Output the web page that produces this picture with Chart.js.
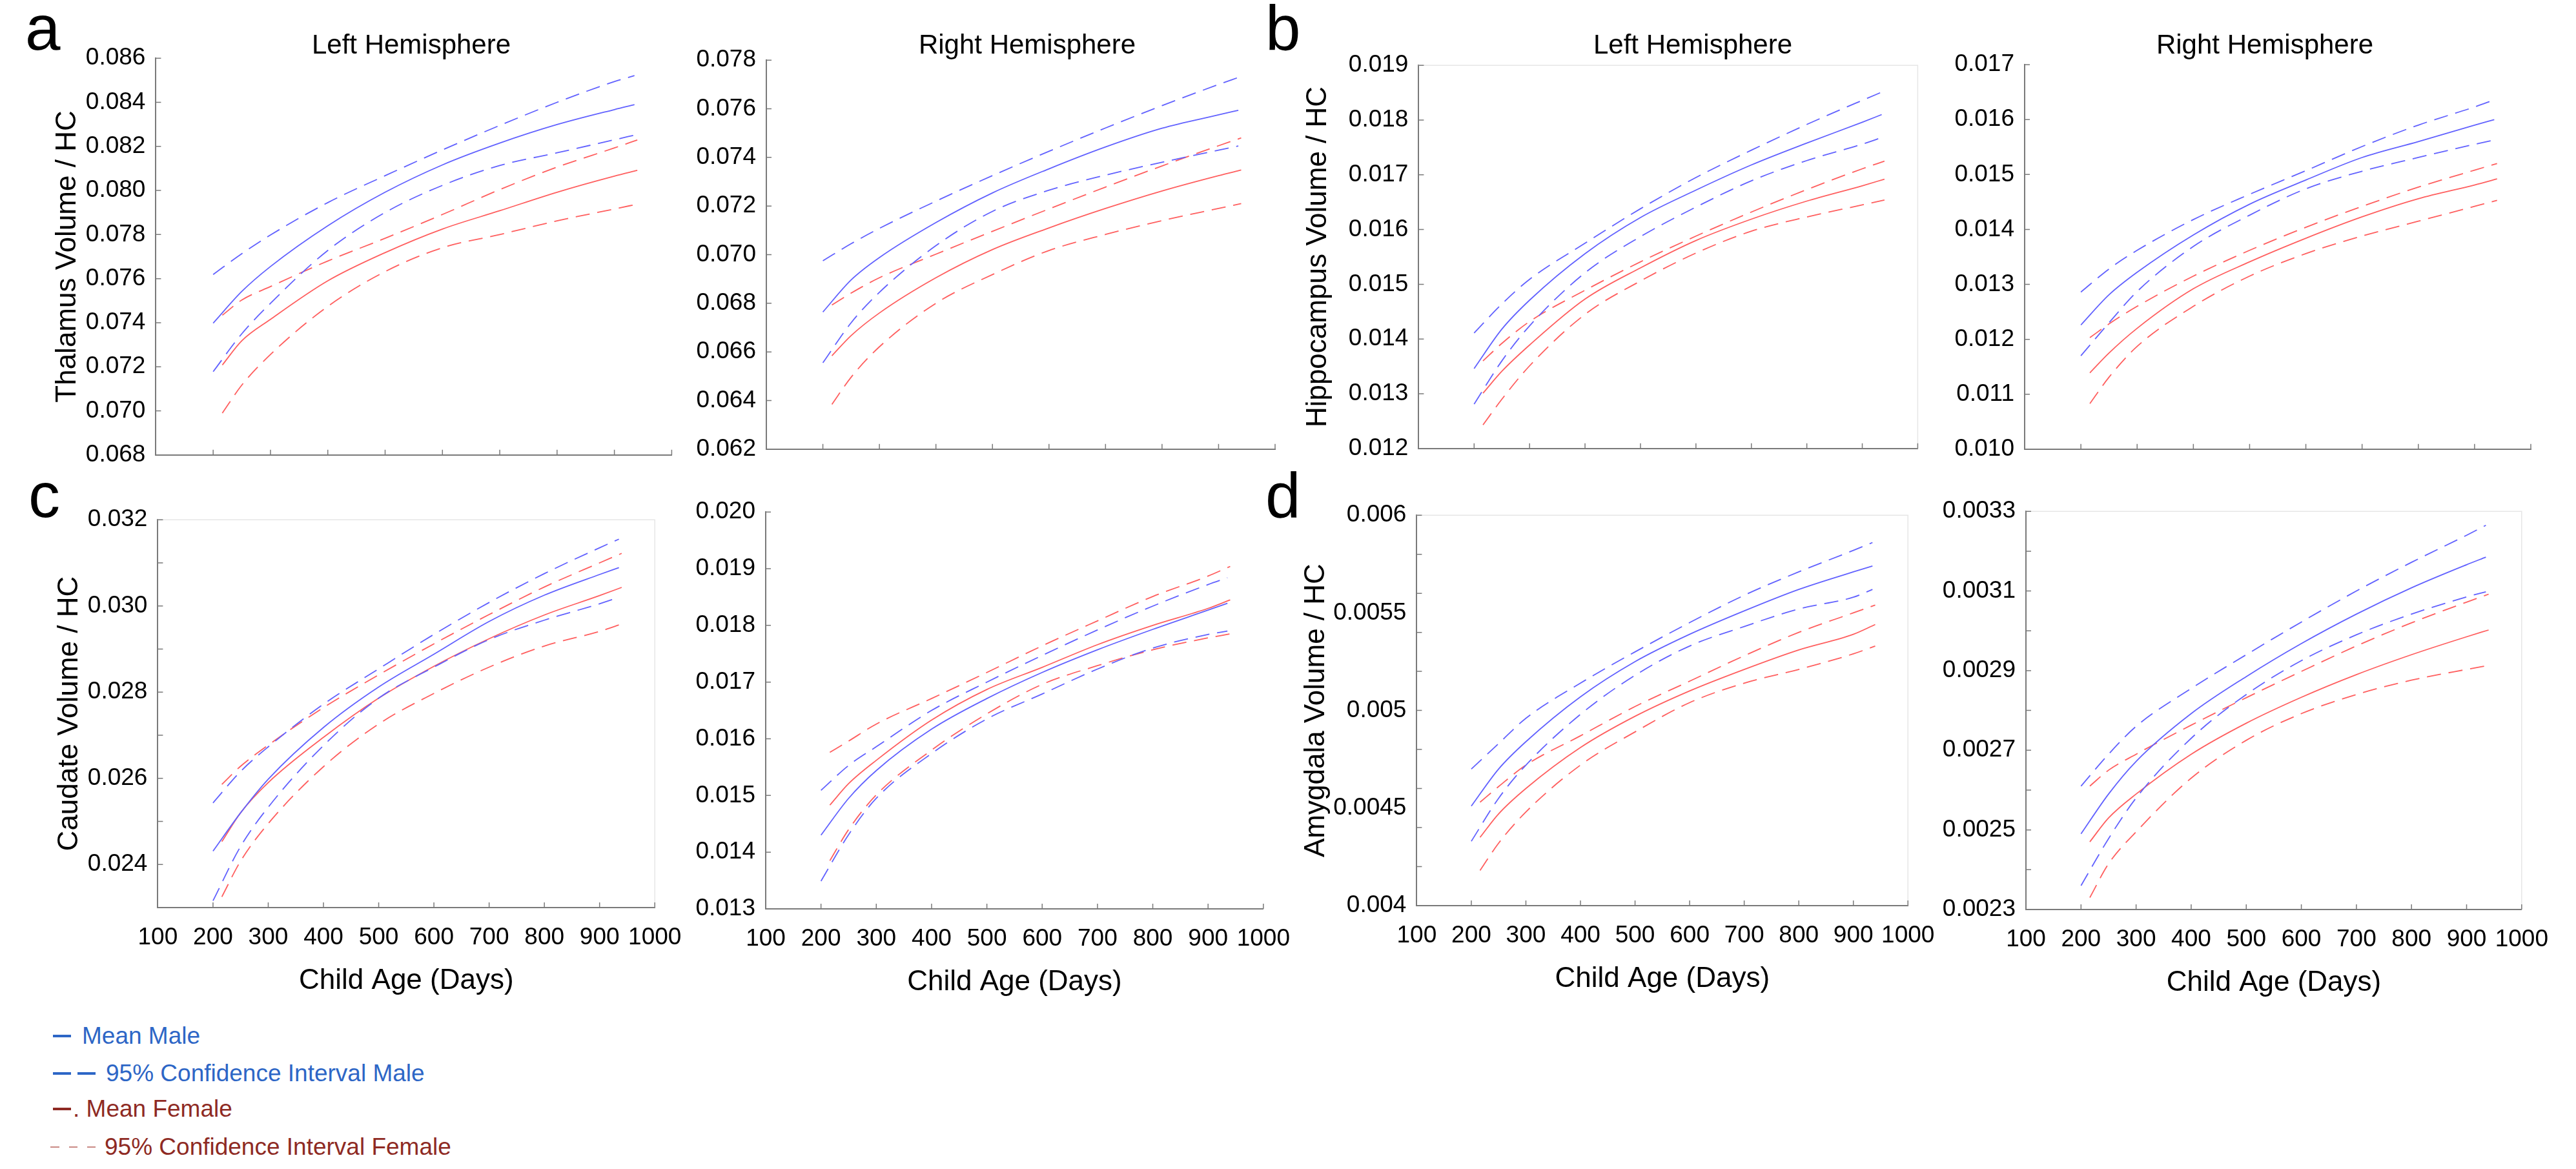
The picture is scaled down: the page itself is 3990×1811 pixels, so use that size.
<!DOCTYPE html>
<html>
<head>
<meta charset="utf-8">
<script src="https://cdn.jsdelivr.net/npm/chart.js@4.4.1/dist/chart.umd.min.js"></script>
<style>
  html, body { margin: 0; padding: 0; background: #fff; }
  #fig { position: relative; width: 3990px; height: 1811px; overflow: hidden; background: #fff;
         font-family: "Liberation Sans", Arial, Helvetica, sans-serif; color: #000; }
  .box { position: absolute; }
  .txt { position: absolute; white-space: nowrap; }
  .letter { font-size: 98px; line-height: 98px; }
  .hemi { font-size: 42px; line-height: 42px; transform: translateX(-50%); }
  .leg { font-size: 37px; line-height: 37px; }
  .dash { position: absolute; }
</style>
</head>
<body>
<div id="fig"></div>
<script>
// Age grid (days) the fitted curves were read at
const maleAge = [200, 250, 300, 400, 500, 600, 700, 800, 900, 935];
const femaleAge = [216, 250, 300, 400, 500, 600, 700, 800, 900, 940];

// a - Thalamus, left hemisphere
const thalL_mHi   = [0.07619, 0.07713, 0.07798, 0.07945, 0.08067, 0.08184, 0.08295, 0.08400, 0.08494, 0.08521];
const thalL_mMean = [0.07398, 0.07542, 0.07655, 0.07840, 0.07992, 0.08116, 0.08215, 0.08299, 0.08367, 0.08389];
const thalL_mLo   = [0.07178, 0.07350, 0.07488, 0.07728, 0.07900, 0.08023, 0.08113, 0.08171, 0.08230, 0.08251];
const thalL_fHi   = [0.07434, 0.07503, 0.07564, 0.07680, 0.07783, 0.07891, 0.08004, 0.08106, 0.08193, 0.08229];
const thalL_fMean = [0.07208, 0.07318, 0.07415, 0.07590, 0.07718, 0.07825, 0.07908, 0.07992, 0.08065, 0.08091];
const thalL_fLo   = [0.06990, 0.07117, 0.07256, 0.07474, 0.07632, 0.07740, 0.07800, 0.07862, 0.07916, 0.07938];

// a - Thalamus, right hemisphere
const thalR_mHi   = [0.06975, 0.07045, 0.07108, 0.07220, 0.07325, 0.07425, 0.07521, 0.07613, 0.07700, 0.07729];
const thalR_mMean = [0.06764, 0.06896, 0.06988, 0.07132, 0.07254, 0.07353, 0.07443, 0.07520, 0.07575, 0.07594];
const thalR_mLo   = [0.06555, 0.06720, 0.06845, 0.07037, 0.07178, 0.07265, 0.07327, 0.07380, 0.07430, 0.07447];
const thalR_fHi   = [0.06793, 0.06842, 0.06905, 0.07002, 0.07096, 0.07188, 0.07278, 0.07365, 0.07448, 0.07480];
const thalR_fMean = [0.06584, 0.06667, 0.06760, 0.06905, 0.07021, 0.07110, 0.07190, 0.07262, 0.07325, 0.07348];
const thalR_fLo   = [0.06384, 0.06496, 0.06621, 0.06800, 0.06918, 0.07017, 0.07083, 0.07140, 0.07190, 0.07210];

// b - Hippocampus, left hemisphere
const hipL_mHi   = [0.01411, 0.01464, 0.01509, 0.01575, 0.01638, 0.01695, 0.01745, 0.01792, 0.01836, 0.01851];
const hipL_mMean = [0.01346, 0.01418, 0.01471, 0.01556, 0.01622, 0.01672, 0.01718, 0.01758, 0.01796, 0.01810];
const hipL_mLo   = [0.01281, 0.01360, 0.01424, 0.01521, 0.01587, 0.01641, 0.01689, 0.01726, 0.01756, 0.01768];
const hipL_fHi   = [0.01360, 0.01392, 0.01432, 0.01489, 0.01541, 0.01588, 0.01632, 0.01673, 0.01711, 0.01725];
const hipL_fMean = [0.01301, 0.01341, 0.01389, 0.01473, 0.01530, 0.01580, 0.01619, 0.01652, 0.01680, 0.01692];
const hipL_fLo   = [0.01243, 0.01290, 0.01351, 0.01445, 0.01506, 0.01557, 0.01597, 0.01623, 0.01645, 0.01654];

// b - Hippocampus, right hemisphere
const hipR_mHi   = [0.01286, 0.01328, 0.01362, 0.01418, 0.01464, 0.01507, 0.01551, 0.01590, 0.01623, 0.01636];
const hipR_mMean = [0.01226, 0.01281, 0.01322, 0.01390, 0.01446, 0.01490, 0.01531, 0.01560, 0.01590, 0.01600];
const hipR_mLo   = [0.01170, 0.01230, 0.01287, 0.01369, 0.01426, 0.01474, 0.01506, 0.01531, 0.01555, 0.01563];
const hipR_fHi   = [0.01203, 0.01228, 0.01260, 0.01315, 0.01362, 0.01404, 0.01442, 0.01477, 0.01508, 0.01520];
const hipR_fMean = [0.01139, 0.01175, 0.01220, 0.01292, 0.01341, 0.01384, 0.01423, 0.01456, 0.01481, 0.01492];
const hipR_fLo   = [0.01083, 0.01131, 0.01187, 0.01260, 0.01315, 0.01356, 0.01388, 0.01415, 0.01442, 0.01453];

// c - Caudate, left hemisphere
const caudL_mHi   = [0.02543, 0.02616, 0.02673, 0.02772, 0.02854, 0.02934, 0.03008, 0.03075, 0.03135, 0.03155];
const caudL_mMean = [0.02431, 0.02520, 0.02598, 0.02718, 0.02812, 0.02888, 0.02964, 0.03025, 0.03073, 0.03089];
const caudL_mLo   = [0.02316, 0.02442, 0.02533, 0.02676, 0.02786, 0.02858, 0.02922, 0.02967, 0.03005, 0.03020];
const caudL_fHi   = [0.02586, 0.02628, 0.02677, 0.02764, 0.02840, 0.02912, 0.02980, 0.03044, 0.03100, 0.03122];
const caudL_fMean = [0.02453, 0.02520, 0.02590, 0.02695, 0.02786, 0.02860, 0.02924, 0.02979, 0.03024, 0.03043];
const caudL_fLo   = [0.02325, 0.02408, 0.02495, 0.02627, 0.02726, 0.02797, 0.02858, 0.02907, 0.02941, 0.02958];

// c - Caudate, right hemisphere
const caudR_mHi   = [0.01509, 0.01553, 0.01586, 0.01650, 0.01700, 0.01747, 0.01792, 0.01834, 0.01872, 0.01884];
const caudR_mMean = [0.01430, 0.01495, 0.01544, 0.01617, 0.01671, 0.01717, 0.01757, 0.01793, 0.01827, 0.01839];
const caudR_mLo   = [0.01349, 0.01431, 0.01495, 0.01574, 0.01635, 0.01679, 0.01723, 0.01760, 0.01784, 0.01790];
const caudR_fHi   = [0.01576, 0.01596, 0.01626, 0.01671, 0.01717, 0.01764, 0.01808, 0.01851, 0.01887, 0.01904];
const caudR_fMean = [0.01483, 0.01521, 0.01562, 0.01633, 0.01687, 0.01726, 0.01766, 0.01800, 0.01830, 0.01845];
const caudR_fLo   = [0.01385, 0.01440, 0.01501, 0.01580, 0.01644, 0.01696, 0.01729, 0.01757, 0.01778, 0.01785];

// d - Amygdala, left hemisphere
const amyL_mHi   = [0.00470, 0.00483, 0.00496, 0.00514, 0.00530, 0.00545, 0.00559, 0.00571, 0.00582, 0.00586];
const amyL_mMean = [0.00451, 0.00470, 0.00484, 0.00507, 0.00525, 0.00539, 0.00551, 0.00562, 0.00571, 0.00574];
const amyL_mLo   = [0.00433, 0.00455, 0.00472, 0.00498, 0.00518, 0.00533, 0.00543, 0.00552, 0.00558, 0.00562];
const amyL_fHi   = [0.00453, 0.00461, 0.00472, 0.00487, 0.00502, 0.00515, 0.00528, 0.00540, 0.00550, 0.00554];
const amyL_fMean = [0.00435, 0.00447, 0.00460, 0.00481, 0.00497, 0.00510, 0.00521, 0.00531, 0.00539, 0.00544];
const amyL_fLo   = [0.00418, 0.00432, 0.00448, 0.00472, 0.00489, 0.00504, 0.00514, 0.00521, 0.00529, 0.00533];

// d - Amygdala, right hemisphere
const amyR_mHi   = [0.002610, 0.002690, 0.002760, 0.002855, 0.002940, 0.003022, 0.003100, 0.003172, 0.003240, 0.003265];
const amyR_mMean = [0.002490, 0.002590, 0.002672, 0.002792, 0.002885, 0.002968, 0.003042, 0.003108, 0.003166, 0.003185];
const amyR_mLo   = [0.002360, 0.002478, 0.002580, 0.002730, 0.002840, 0.002925, 0.002990, 0.003042, 0.003085, 0.003098];
const amyR_fHi   = [0.002610, 0.002650, 0.002690, 0.002763, 0.002832, 0.002898, 0.002962, 0.003020, 0.003072, 0.003092];
const amyR_fMean = [0.002470, 0.002530, 0.002590, 0.002690, 0.002768, 0.002833, 0.002890, 0.002940, 0.002985, 0.003002];
const amyR_fLo   = [0.002330, 0.002415, 0.002495, 0.002630, 0.002725, 0.002792, 0.002840, 0.002876, 0.002903, 0.002913];

const legendLabels = ["Mean Male", "95% Confidence Interval Male", ". Mean Female", "95% Confidence Interval Female"];

const BLUE = "#6262ff";
const RED = "#ff5f5f";
const AXIS = "#7a7a7a";
const DASH = [22, 12];
const NARROW = '"Liberation Sans Narrow", "Arial Narrow", "Liberation Sans", sans-serif';
const SANS = '"Liberation Sans", Arial, Helvetica, sans-serif';
const TOP_PAD = 30;
const RIGHT_PAD = 48;
const TICK = 8;

const fix3 = (v) => v.toFixed(3);
const k4 = (v) => Math.round(v * 1e4);

// chart-area box of every panel in page pixels, plus its axis setup
const PANELS = [
  { L: 241, R: 1040, T: 82, B: 713, yMin: 0.068, yMax: 0.086, step: 0.002, title: "Thalamus Volume / HC", tOff: 137,
    series: [thalL_mHi, thalL_mMean, thalL_mLo, thalL_fHi, thalL_fMean, thalL_fLo], label: fix3 },
  { L: 1187, R: 1975, T: 85, B: 704, yMin: 0.062, yMax: 0.078, step: 0.002,
    series: [thalR_mHi, thalR_mMean, thalR_mLo, thalR_fHi, thalR_fMean, thalR_fLo], label: fix3 },
  { L: 2197, R: 2970, T: 93, B: 703, yMin: 0.012, yMax: 0.019, step: 0.001, title: "Hippocampus Volume / HC", tOff: 156, frame: true,
    series: [hipL_mHi, hipL_mMean, hipL_mLo, hipL_fHi, hipL_fMean, hipL_fLo], label: fix3 },
  { L: 3136, R: 3920, T: 92, B: 704, yMin: 0.010, yMax: 0.017, step: 0.001,
    series: [hipR_mHi, hipR_mMean, hipR_mLo, hipR_fHi, hipR_fMean, hipR_fLo], label: fix3 },
  { L: 244, R: 1032, T: 797, B: 1406, yMin: 0.023, yMax: 0.032, step: 0.001, title: "Caudate Volume / HC", tOff: 137, frame: true, xLabels: true,
    series: [caudL_mHi, caudL_mMean, caudL_mLo, caudL_fHi, caudL_fMean, caudL_fLo],
    label: (v) => (Math.round(v * 1000) % 2 === 0 ? v.toFixed(3) : "") },
  { L: 1186, R: 1975, T: 785, B: 1408, yMin: 0.013, yMax: 0.020, step: 0.001, xLabels: true,
    series: [caudR_mHi, caudR_mMean, caudR_mLo, caudR_fHi, caudR_fMean, caudR_fLo], label: fix3 },
  { L: 2194, R: 2973, T: 790, B: 1403, yMin: 0.004, yMax: 0.006, step: 0.0001, title: "Amygdala Volume / HC", tOff: 156, frame: true, xLabels: true,
    series: [amyL_mHi, amyL_mMean, amyL_mLo, amyL_fHi, amyL_fMean, amyL_fLo],
    label: (v) => (k4(v) % 5 === 0 ? String(k4(v) / 1e4) : ""), mark: (v) => k4(v) % 2 === 0 },
  { L: 3138, R: 3924, T: 784, B: 1409, yMin: 0.0023, yMax: 0.0033, step: 0.0001, frame: true, xLabels: true,
    series: [amyR_mHi, amyR_mMean, amyR_mLo, amyR_fHi, amyR_fMean, amyR_fLo],
    label: (v) => (k4(v) % 2 === 1 ? v.toFixed(4) : "") },
];

const LINE_STYLES = [
  { color: BLUE, dash: DASH }, { color: BLUE, dash: [] }, { color: BLUE, dash: DASH },
  { color: RED, dash: DASH }, { color: RED, dash: [] }, { color: RED, dash: DASH },
];

const fig = document.getElementById("fig");

// MATLAB-style tick marks pointing into the plot, and the faint box some panels have
function tickPlugin(p) {
  return {
    id: "inTicks",
    afterDraw(chart) {
      const { ctx, chartArea: a, scales: { x, y } } = chart;
      ctx.save();
      if (p.frame) {
        ctx.strokeStyle = "#e6e6e6";
        ctx.lineWidth = 1.5;
        ctx.beginPath();
        ctx.moveTo(a.left, a.top);
        ctx.lineTo(a.right, a.top);
        ctx.lineTo(a.right, a.bottom);
        ctx.stroke();
      }
      ctx.strokeStyle = AXIS;
      ctx.lineWidth = 1.5;
      ctx.beginPath();
      x.ticks.forEach((t) => {
        if (t.value <= x.min) return;
        const px = x.getPixelForValue(t.value);
        ctx.moveTo(px, a.bottom);
        ctx.lineTo(px, a.bottom - TICK);
      });
      y.ticks.forEach((t) => {
        if (p.mark && !p.mark(t.value)) return;
        const py = y.getPixelForValue(t.value);
        ctx.moveTo(a.left, py);
        ctx.lineTo(a.left + TICK, py);
      });
      ctx.stroke();
      ctx.restore();
    },
  };
}

function makePanel(p) {
  const yW = p.title ? p.tOff + 26.4 : 140;
  const xH = p.xLabels ? 140.4 : 30;
  const w = yW + (p.R - p.L) + RIGHT_PAD;
  const h = TOP_PAD + (p.B - p.T) + xH;
  const box = document.createElement("div");
  box.className = "box";
  box.style.left = (p.L - yW) + "px";
  box.style.top = (p.T - TOP_PAD) + "px";
  box.style.width = w + "px";
  box.style.height = h + "px";
  const cv = document.createElement("canvas");
  box.appendChild(cv);
  fig.appendChild(box);

  const datasets = p.series.map((ys, i) => ({
    data: (i < 3 ? maleAge : femaleAge).map((age, j) => ({ x: age, y: ys[j] })),
    borderColor: LINE_STYLES[i].color,
    borderDash: LINE_STYLES[i].dash,
    borderWidth: 1.8,
    pointRadius: 0,
    fill: false,
    cubicInterpolationMode: "monotone",
  }));

  new Chart(cv, {
    type: "line",
    data: { datasets },
    plugins: [tickPlugin(p)],
    options: {
      responsive: true,
      maintainAspectRatio: false,
      animation: false,
      events: [],
      layout: { padding: { top: TOP_PAD, right: RIGHT_PAD, left: 0, bottom: 0 } },
      plugins: { legend: { display: false }, tooltip: { enabled: false } },
      scales: {
        x: {
          type: "linear",
          min: 100,
          max: 1000,
          grid: { display: false, drawTicks: false },
          border: { display: true, color: AXIS, width: 2 },
          ticks: {
            display: !!p.xLabels,
            stepSize: 100,
            autoSkip: false,
            maxRotation: 0,
            padding: 25,
            color: "#000",
            font: { family: NARROW, size: 37 },
            callback: (v) => String(v),
          },
          title: {
            display: !!p.xLabels,
            text: "Child Age (Days)",
            color: "#000",
            font: { family: SANS, size: 44 },
            padding: 0,
          },
          afterFit: (s) => { s.height = xH; },
        },
        y: {
          type: "linear",
          min: p.yMin,
          max: p.yMax,
          grid: { display: false, drawTicks: false },
          border: { display: true, color: AXIS, width: 2 },
          ticks: {
            stepSize: p.step,
            maxTicksLimit: 100,
            autoSkip: false,
            padding: 16,
            color: "#000",
            font: { family: NARROW, size: 37 },
            callback: (v) => p.label(v),
          },
          title: {
            display: !!p.title,
            text: p.title || "",
            color: "#000",
            font: { family: SANS, size: 44 },
            padding: 0,
          },
          afterFit: (s) => { s.width = yW; },
        },
      },
    },
  });
}

PANELS.forEach(makePanel);

// panel letters and hemisphere headings
function addText(cls, text, left, top) {
  const d = document.createElement("div");
  d.className = "txt " + cls;
  d.textContent = text;
  d.style.left = left + "px";
  d.style.top = top + "px";
  fig.appendChild(d);
  return d;
}
addText("letter", "a", 39, -6);
addText("letter", "b", 1960, -6);
addText("letter", "c", 44, 718);
addText("letter", "d", 1960, 718);
addText("hemi", "Left Hemisphere", 637, 48);
addText("hemi", "Right Hemisphere", 1591, 48);
addText("hemi", "Left Hemisphere", 2622, 48);
addText("hemi", "Right Hemisphere", 3508, 48);

// legend below the panels
const LEG_BLUE = "#2d66c6";
const LEG_RED = "#8e2a23";
function addDash(x0, x1, yc, thick, color) {
  const d = document.createElement("div");
  d.className = "dash";
  d.style.left = x0 + "px";
  d.style.width = (x1 - x0) + "px";
  d.style.top = (yc - thick / 2) + "px";
  d.style.height = thick + "px";
  d.style.background = color;
  fig.appendChild(d);
}
const legRows = [
  { y: 1605, x: 127, color: LEG_BLUE, dashes: [[82, 110]], thick: 3.5, dcolor: LEG_BLUE },
  { y: 1663, x: 164, color: LEG_BLUE, dashes: [[82, 110], [120, 148]], thick: 3.5, dcolor: LEG_BLUE },
  { y: 1718, x: 113, color: LEG_RED, dashes: [[82, 110]], thick: 3.5, dcolor: LEG_RED },
  { y: 1777, x: 162, color: LEG_RED, dashes: [[78, 92], [107, 120], [135, 148]], thick: 1.5, dcolor: "#c98a85" },
];
legRows.forEach((r, i) => {
  r.dashes.forEach(([a, b]) => addDash(a, b, r.y, r.thick, r.dcolor));
  const t = addText("leg", legendLabels[i], r.x, r.y - 19);
  t.style.color = r.color;
});
</script>
</body>
</html>
